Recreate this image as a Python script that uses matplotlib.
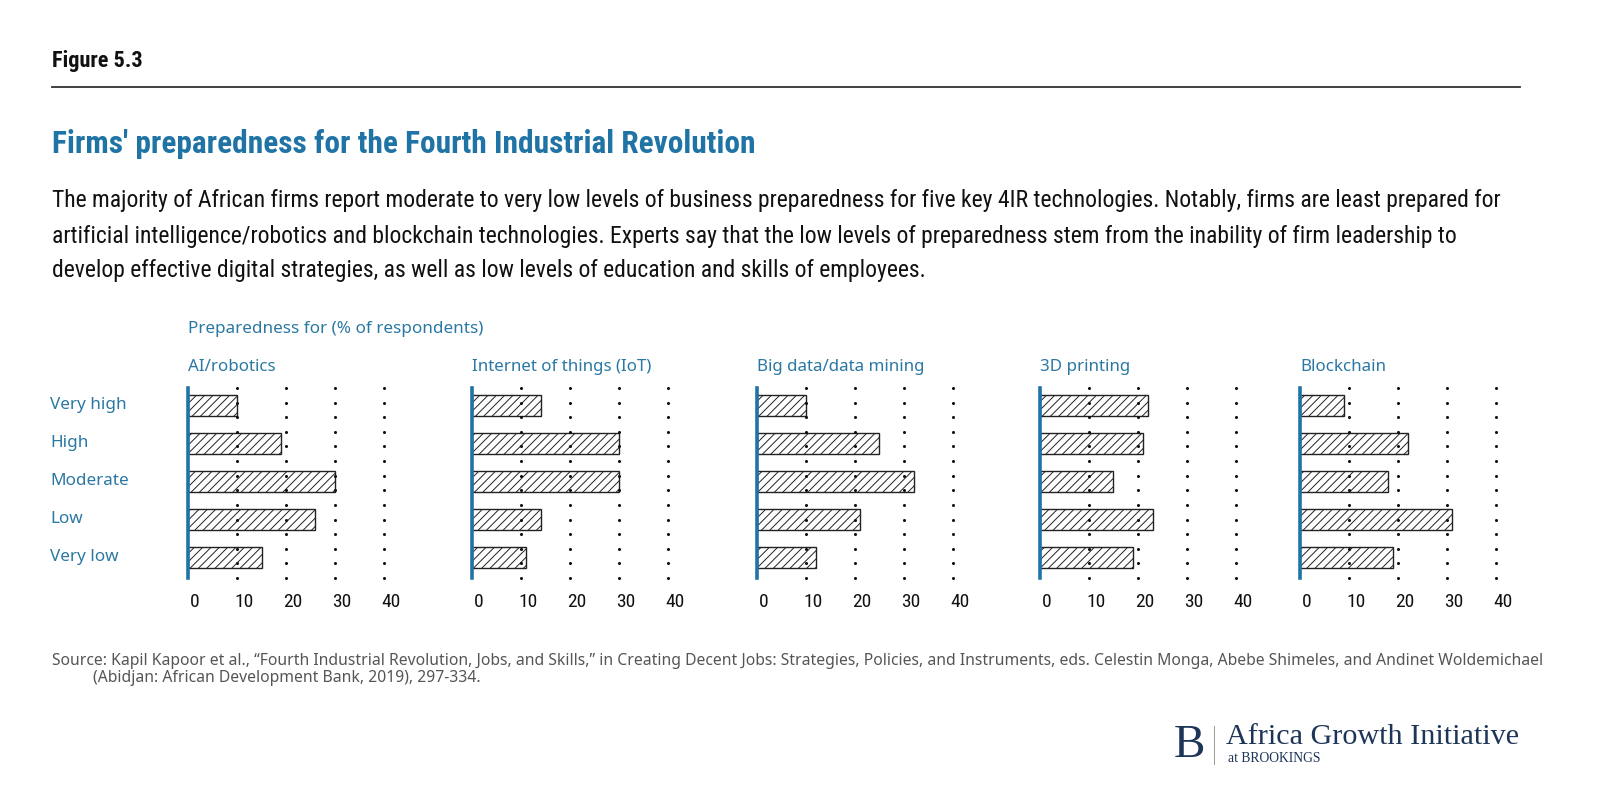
import numpy as np
import matplotlib.pyplot as plt
from matplotlib import font_manager as fm
from matplotlib import transforms

# Datos
categorias = ["Very high", "High", "Moderate", "Low", "Very low"]
tecnologias = ["AI/robotics", "Internet of things (IoT)", "Big data/data mining",
               "3D printing", "Blockchain"]
ai_robotics = [10, 19, 30, 26, 15]
iot = [14, 30, 30, 14, 11]
big_data = [10, 25, 32, 21, 12]
printing_3d = [22, 21, 15, 23, 19]
blockchain = [9, 22, 18, 31, 19]
series = [ai_robotics, iot, big_data, printing_3d, blockchain]
ticks = [0, 10, 20, 30, 40]

# Fuentes: buscar una condensada si existe
nombres = {f.name for f in fm.fontManager.ttflist}
cond = "DejaVu Sans"
for n in ["Roboto Condensed", "Liberation Sans Narrow", "Open Sans Condensed",
          "Noto Sans Condensed", "DejaVu Sans Condensed"]:
    if n in nombres:
        cond = n
        break
stretch = "condensed"
regular = "Noto Sans" if "Noto Sans" in nombres else "DejaVu Sans"
serif = "Liberation Serif" if "Liberation Serif" in nombres else "DejaVu Serif"

azul = "#1f74a5"
azul_txt = "#2a78a3"

plt.rcParams["hatch.linewidth"] = 0.7

W, H = 1615, 795
fig = plt.figure(figsize=(W / 100, H / 100), dpi=100)


def fx(x):
    return x / W


def fy(y):
    return 1 - y / H


# Encabezado
fig.text(fx(52), fy(61), "Figure 5.3", family=cond, stretch=stretch, weight="bold",
         fontsize=16, va="center", ha="left", color="#111111")
fig.add_artist(plt.Line2D([fx(52), fx(1520)], [fy(87), fy(87)], color="#333333", lw=1.3))
fig.text(fx(52), fy(144), "Firms' preparedness for the Fourth Industrial Revolution",
         family=cond, stretch=stretch, weight="bold", fontsize=22.6, va="center",
         ha="left", color=azul)
sub = ["The majority of African firms report moderate to very low levels of business preparedness for five key 4IR technologies. Notably, firms are least prepared for",
       "artificial intelligence/robotics and blockchain technologies. Experts say that the low levels of preparedness stem from the inability of firm leadership to",
       "develop effective digital strategies, as well as low levels of education and skills of employees."]
for i, linea in enumerate(sub):
    fig.text(fx(52), fy(201 + 35 * i), linea, family=cond, stretch=stretch,
             fontsize=17.0, va="center", ha="left", color="#111111")

fig.text(fx(188), fy(329), "Preparedness for (% of respondents)", family=regular,
         fontsize=12.3, va="center", ha="left", color=azul_txt)

# Paneles
x0s = [188, 472, 757, 1040, 1300]
escala = 4.9  # px por unidad
y_top, y_bot = 388, 578
y = np.arange(len(categorias))
offset = transforms.ScaledTranslation(7 / 100, 0, fig.dpi_scale_trans)

for k, (x0, vals, tec) in enumerate(zip(x0s, series, tecnologias)):
    ax = fig.add_axes([fx(x0), fy(y_bot), fx(41.5 * escala), (y_bot - y_top) / H])
    ax.barh(y, vals, height=0.55, color="white", edgecolor="#222222",
            hatch="////", linewidth=1.0, zorder=2)
    dots_y = np.linspace(-0.45, 4.55, 14)
    for t in ticks[1:]:
        ax.plot([t] * len(dots_y), dots_y, ls="none", marker="o", ms=1.2,
                color="#111111", zorder=3, clip_on=False)
    ax.set_xlim(0, 41.5)
    ax.set_ylim(4.55, -0.45)
    for s in ["top", "right", "bottom"]:
        ax.spines[s].set_visible(False)
    ax.spines["left"].set_color(azul)
    ax.spines["left"].set_linewidth(2.6)
    ax.spines["left"].set_zorder(4)
    ax.set_yticks([])
    ax.set_xticks(ticks)
    ax.set_xticklabels([str(t) for t in ticks], family=cond, stretch=stretch,
                       fontsize=14, color="#111111")
    ax.tick_params(axis="x", length=0, pad=10.5)
    for lab in ax.get_xticklabels():
        lab.set_transform(lab.get_transform() + offset)
    ax.patch.set_visible(False)
    fig.text(fx(x0), fy(367), tec, family=regular, fontsize=12.2, va="center",
             ha="left", color=azul_txt)
    if k == 0:
        tr = transforms.blended_transform_factory(fig.transFigure, ax.transData)
        for yi, cat in zip(y, categorias):
            ax.text(fx(50), yi, cat, transform=tr, family=regular, fontsize=12.3,
                    va="center", ha="left", color=azul_txt)

# Fuente
fig.text(fx(52), fy(661), "Source: Kapil Kapoor et al., \u201cFourth Industrial Revolution, Jobs, and Skills,\u201d in Creating Decent Jobs: Strategies, Policies, and Instruments, eds. Celestin Monga, Abebe Shimeles, and Andinet Woldemichael",
         family=regular, fontsize=11.3, va="center", ha="left", color="#555555")
fig.text(fx(93), fy(678), "(Abidjan: African Development Bank, 2019), 297-334.",
         family=regular, fontsize=11.3, va="center", ha="left", color="#555555")

# Logo
navy = "#1d3557"
fig.text(fx(1174), fy(746), "B", family=serif, fontsize=34, va="center", ha="left",
         color=navy)
fig.add_artist(plt.Line2D([fx(1214), fx(1214)], [fy(726), fy(764)], color="#999999", lw=0.7))
fig.text(fx(1226), fy(737), "Africa Growth Initiative", family=serif, fontsize=21.7,
         va="center", ha="left", color=navy)
fig.text(fx(1228), fy(759), "at BROOKINGS", family=serif, fontsize=9.8,
         va="center", ha="left", color=navy)

fig.savefig("out.png", dpi=100, facecolor="white")
